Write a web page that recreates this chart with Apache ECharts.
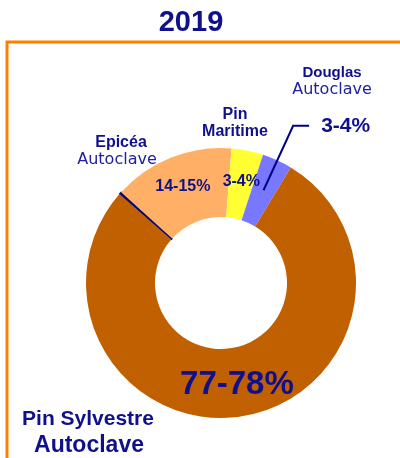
<!DOCTYPE html>
<html>
<head>
<meta charset="utf-8">
<script src="https://cdn.jsdelivr.net/npm/echarts@6/dist/echarts.min.js"></script>
<style>html,body{margin:0;padding:0;background:#fff}#c{width:400px;height:458px}</style>
</head>
<body>
<div id="c"></div>
<script>
const yearTitle = '2019';
const categories = ['Epicéa Autoclave', 'Pin Maritime', 'Douglas Autoclave', 'Pin Sylvestre Autoclave'];
const shares = [14.5, 3.8, 3.6, 77.8];
const separatorShare = 0.3;
const shareLabels = ['14-15%', '3-4%', '3-4%', '77-78%'];
const insideLabel = [true, true, false, true];
const outsideLabel = [false, false, true, false];

const NAVY = '#10108c';
const sliceColors = ['#ffb066', '#ffff33', '#7777ff', '#c06000'];
const BOLD = '"Liberation Sans", Arial, sans-serif';
const REG = '"DejaVu Sans", sans-serif';

const chart = echarts.init(document.getElementById('c'), null, {renderer: 'canvas'});

const center = [221, 283];
const startAngle = 138.8;

const mainData = [{
  name: 'sep', value: separatorShare,
  itemStyle: {color: '#000080', borderColor: '#000080', borderWidth: 1.2},
  label: {show: false}
}].concat(categories.map((c, i) => ({
  name: c, value: shares[i],
  itemStyle: {color: sliceColors[i]},
  label: {show: insideLabel[i], formatter: shareLabels[i],
    fontSize: i === 3 ? 33 : 16}
})));

const overlayData = [{name: 'sep', value: separatorShare, label: {show: false}, labelLine: {show: false}}]
  .concat(categories.map((c, i) => ({
    name: c, value: shares[i],
    label: {show: outsideLabel[i], formatter: shareLabels[i]},
    labelLine: {show: outsideLabel[i]}
  })));

function txt(text, x, y, font, fill) {
  return {type: 'text', x: x, y: y, silent: true,
    style: {text: text, font: font, fill: fill || NAVY, textAlign: 'center', textVerticalAlign: 'middle'}};
}

chart.setOption({
  animation: false,
  graphic: [
    {type: 'rect', shape: {x: 7, y: 42, width: 430, height: 460}, silent: true,
      style: {fill: 'none', stroke: '#ff8000', lineWidth: 3}},
    txt(yearTitle, 191, 23, 'bold 29px ' + BOLD),
    txt('Douglas', 332, 73, 'bold 15px ' + BOLD),
    txt('Autoclave', 332, 90, '16px ' + REG, '#2020a0'),
    txt('Pin', 235, 115, 'bold 16px ' + BOLD),
    txt('Maritime', 235, 132, 'bold 16px ' + BOLD),
    txt('Epicéa', 121, 143, 'bold 16px ' + BOLD),
    txt('Autoclave', 117, 160, '16px ' + REG, '#2020a0'),
    txt('Pin Sylvestre', 88, 419, 'bold 21px ' + BOLD),
    txt('Autoclave', 89, 446, 'bold 23px ' + BOLD)
  ],
  series: [
    {
      type: 'pie', center: center, radius: [66, 135], startAngle: startAngle,
      clockwise: true, silent: true, avoidLabelOverlap: false,
      emphasis: {disabled: true},
      label: {position: 'inside', color: NAVY, fontWeight: 'bold', fontFamily: BOLD},
      labelLine: {show: false},
      data: mainData
    },
    {
      type: 'pie', center: center, radius: [0, 102], startAngle: startAngle,
      clockwise: true, silent: true, avoidLabelOverlap: false, z: 3,
      emphasis: {disabled: true},
      itemStyle: {color: 'rgba(0,0,0,0)'},
      label: {position: 'outside', color: NAVY, fontWeight: 'bold', fontFamily: BOLD,
        fontSize: 21, distanceToLabelLine: 12},
      labelLine: {length: 71, length2: 16, smooth: false,
        lineStyle: {color: '#000080', width: 2}},
      data: overlayData
    }
  ]
});
</script>
</body>
</html>
